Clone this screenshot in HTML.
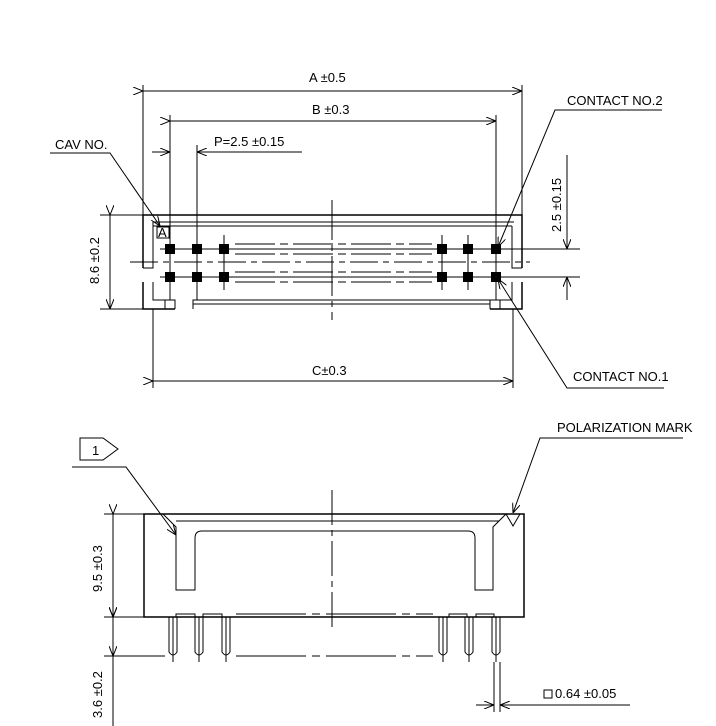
<!DOCTYPE html>
<html><head><meta charset="utf-8"><style>
html,body{margin:0;padding:0;background:#fff;}
svg{display:block}
text{font-family:"Liberation Sans",sans-serif;font-size:13px;fill:#000}
</style></head><body>
<svg width="716" height="726" viewBox="0 0 716 726" xmlns="http://www.w3.org/2000/svg">
<defs>
<marker id="ar" markerWidth="10" markerHeight="8" refX="10" refY="4" orient="auto" markerUnits="userSpaceOnUse"><path d="M0,0 L10,4 L0,8" fill="none" stroke="#000" stroke-width="1"/></marker>
</defs>
<g stroke="#000" stroke-width="1" fill="none">
<!-- TOP VIEW -->
<!-- extension lines -->
<line x1="143" y1="85" x2="143" y2="215"/>
<line x1="522" y1="85" x2="522" y2="215"/>
<line x1="170" y1="115" x2="170" y2="300"/>
<line x1="496" y1="115" x2="496" y2="300"/>
<line x1="197" y1="145" x2="197" y2="300"/>
<line x1="153" y1="309" x2="153" y2="388"/>
<line x1="513" y1="309" x2="513" y2="388"/>
<!-- dims -->
<line x1="143" y1="91" x2="522" y2="91" marker-start="url(#ar)" marker-end="url(#ar)"/>
<line x1="170" y1="121" x2="496" y2="121" marker-start="url(#ar)" marker-end="url(#ar)"/>
<line x1="152" y1="152" x2="170" y2="152" marker-end="url(#ar)"/>
<line x1="302" y1="152" x2="197" y2="152" marker-end="url(#ar)"/>
<line x1="153" y1="381" x2="513" y2="381" marker-start="url(#ar)" marker-end="url(#ar)"/>
<line x1="100" y1="215" x2="143" y2="215"/>
<line x1="100" y1="309" x2="143" y2="309"/>
<line x1="110" y1="215" x2="110" y2="309" marker-start="url(#ar)" marker-end="url(#ar)"/>
<line x1="505" y1="249" x2="580" y2="249"/>
<line x1="505" y1="277" x2="580" y2="277"/>
<line x1="567" y1="155" x2="567" y2="249" marker-end="url(#ar)"/>
<line x1="567" y1="300" x2="567" y2="277" marker-end="url(#ar)"/>
<!-- body -->
<path d="M143,268 V215 H522 V268" stroke-width="1.5"/>
<path d="M143,282 V309 H175 M522,282 V309 H490" stroke-width="1.5"/>
<line x1="153" y1="222" x2="514" y2="222"/>
<line x1="153" y1="226" x2="512" y2="226"/>
<path d="M143,268 H153 V222 M522,268 H512 V226"/>
<path d="M153,282 V300 H175 V309 M512,282 V300 H490 V309"/>
<rect x="157" y="227" width="12" height="11"/>
<text x="158" y="237" font-size="11" stroke="none">A</text>
<path d="M193,309 V300 H490"/>
<line x1="193" y1="304" x2="490" y2="304"/>
<line x1="165" y1="300" x2="165" y2="309"/>
<line x1="500" y1="300" x2="500" y2="309"/>
<!-- pin rows hidden lines -->
<line x1="235" y1="244" x2="432" y2="244" stroke-dasharray="40,5,8,5"/>
<line x1="235" y1="254" x2="432" y2="254" stroke-dasharray="40,5,8,5"/>
<line x1="235" y1="272" x2="432" y2="272" stroke-dasharray="40,5,8,5"/>
<line x1="235" y1="282" x2="432" y2="282" stroke-dasharray="40,5,8,5"/>
<line x1="160" y1="249" x2="505" y2="249"/>
<line x1="160" y1="277" x2="505" y2="277"/>
<line x1="130" y1="262" x2="530" y2="262" stroke-dasharray="28,5,6,5"/>
<line x1="332" y1="200" x2="332" y2="320" stroke-dasharray="40,5,6,5"/>
<line x1="224" y1="235" x2="224" y2="290"/>
<line x1="442" y1="235" x2="442" y2="290"/>
<line x1="468" y1="235" x2="468" y2="290"/>
</g>
<g fill="#000">
<rect x="165" y="244" width="10" height="10"/><rect x="192" y="244" width="10" height="10"/><rect x="219" y="244" width="10" height="10"/>
<rect x="437" y="244" width="10" height="10"/><rect x="463" y="244" width="10" height="10"/><rect x="491" y="244" width="10" height="10"/>
<rect x="165" y="272" width="10" height="10"/><rect x="192" y="272" width="10" height="10"/><rect x="219" y="272" width="10" height="10"/>
<rect x="437" y="272" width="10" height="10"/><rect x="463" y="272" width="10" height="10"/><rect x="491" y="272" width="10" height="10"/>
</g>
<g stroke="#000" stroke-width="1" fill="none">
<!-- leaders -->
<path d="M50,153 H110 L160,226" marker-end="url(#ar)"/>
<path d="M662,110 H555 L498,247" marker-end="url(#ar)"/>
<path d="M664,388 H567 L498,279" marker-end="url(#ar)"/>
<path d="M683,438 H540 L513,513" marker-end="url(#ar)"/>
<path d="M72,467 H126 L176,535" marker-end="url(#ar)"/>
<path d="M80,438 H103 L118,449 L103,460 H80 Z"/>
<!-- BOTTOM VIEW -->
<rect x="144" y="514" width="380" height="103" stroke-width="1.5"/>
<path d="M163,514 L176,527 V590 H195 V538 Q195,531 202,531 H468 Q475,531 475,538 V590 H493 V527 L506,514"/>
<line x1="176" y1="521" x2="499" y2="521"/>
<path d="M506,514 L513,526 L520,514"/>
<line x1="332" y1="490" x2="332" y2="630" stroke-dasharray="35,5,6,5"/>
<line x1="236" y1="614" x2="433" y2="614" stroke-dasharray="70,6,8,6"/>
<line x1="236" y1="656" x2="433" y2="656" stroke-dasharray="70,6,8,6"/>
<path d="M176,617 V614 H195 V617 M203,617 V614 H222 V617 M449,617 V614 H467 V617 M476,617 V614 H494 V617"/>
<g>
<path d="M169,617 V652 Q173,658 177,652 V617"/><line x1="173" y1="617" x2="173" y2="662"/>
<path d="M195,617 V652 Q199,658 203,652 V617"/><line x1="199" y1="617" x2="199" y2="662"/>
<path d="M222,617 V652 Q226,658 230,652 V617"/><line x1="226" y1="617" x2="226" y2="662"/>
<path d="M439,617 V652 Q443,658 447,652 V617"/><line x1="443" y1="617" x2="443" y2="662"/>
<path d="M465,617 V652 Q469,658 473,652 V617"/><line x1="469" y1="617" x2="469" y2="662"/>
<path d="M492,617 V652 Q496,658 500,652 V617"/><line x1="496" y1="617" x2="496" y2="662"/>
</g>
<line x1="494" y1="662" x2="494" y2="712"/>
<line x1="500" y1="662" x2="500" y2="712"/>
<line x1="476" y1="705" x2="494" y2="705" marker-end="url(#ar)"/>
<line x1="630" y1="705" x2="500" y2="705" marker-end="url(#ar)"/>
<line x1="104" y1="514" x2="144" y2="514"/>
<line x1="104" y1="617" x2="144" y2="617"/>
<line x1="104" y1="656" x2="165" y2="656"/>
<line x1="113" y1="514" x2="113" y2="617" marker-start="url(#ar)" marker-end="url(#ar)"/>
<line x1="113" y1="617" x2="113" y2="656" marker-start="url(#ar)" marker-end="url(#ar)"/>
<line x1="113" y1="656" x2="113" y2="726"/>
<rect x="544" y="690" width="8" height="8"/>
</g>
<!-- texts -->
<text x="309" y="82">A ±0.5</text>
<text x="312" y="114">B ±0.3</text>
<text x="214" y="146">P=2.5 ±0.15</text>
<text x="55" y="149">CAV NO.</text>
<text x="567" y="105" font-size="12">CONTACT NO.2</text>
<text x="573" y="381" font-size="12">CONTACT NO.1</text>
<text x="557" y="432" font-size="12">POLARIZATION MARK</text>
<text x="312" y="375">C±0.3</text>
<text x="555" y="698">0.64 ±0.05</text>
<text x="92" y="455">1</text>
<text transform="translate(99,284) rotate(-90)">8.6 ±0.2</text>
<text transform="translate(561,232) rotate(-90)">2.5 ±0.15</text>
<text transform="translate(102,592) rotate(-90)">9.5 ±0.3</text>
<text transform="translate(102,718) rotate(-90)">3.6 ±0.2</text>
</svg>
</body></html>
